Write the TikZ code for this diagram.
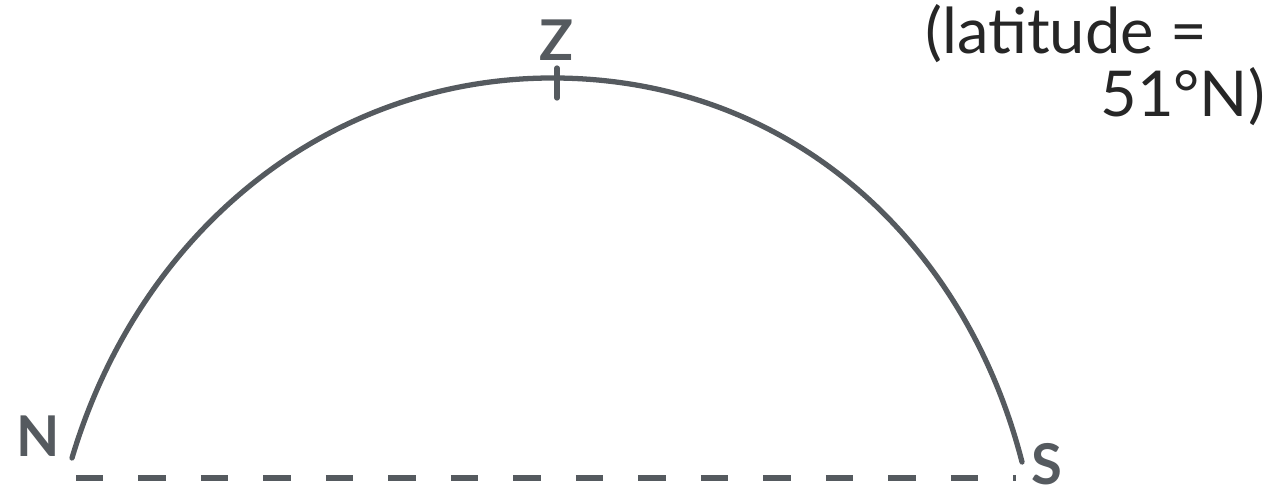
\documentclass[tikz,border=0pt]{standalone}
\usepackage{fontspec}
\setmainfont{Lato}
\usepackage{xcolor}
\usetikzlibrary{positioning, calc}
\definecolor{pencil}{RGB}{85, 90, 95}

\begin{document}
\begin{tikzpicture}[
  x=0.02cm, y=-0.02cm,
  sky/.style={draw=pencil, line width=3pt, line cap=round},
  horizon/.style={draw=pencil, line width=3.6pt, dash pattern=on 0.55cm off 0.7cm},
  label/.style={text=pencil, font=\fontsize{32}{32}\selectfont\bfseries, inner sep=0pt},
  note/.style={text=black!85, font=\fontsize{36}{36}\selectfont, align=left, inner sep=0pt}
]
  \useasboundingbox (0,0) rectangle (1264,495);

  % points on the horizon and the zenith
  \coordinate (north) at (72,458);
  \coordinate (zenith) at (557,78);
  \coordinate (south) at (1022,462);

  \draw[sky] (north) .. controls (140,230) and (330,76) .. (zenith)
                     .. controls (790,80) and (965,240) .. (south);
  \draw[sky] ($(zenith)+(0,-10)$) -- ($(zenith)+(0,20)$);
  \draw[horizon] (76,478) -- (1016,478);

  \node[label] (N) at (38,436) {N};
  \node[label] (Z) at (557,40) {Z};
  \node[label] (S) at (1047,464) {S};

  \node[note, anchor=north west] (lat) at (925,4) {(latitude =\\ \hspace*{3.5cm}51°N)};
\end{tikzpicture}
\end{document}
